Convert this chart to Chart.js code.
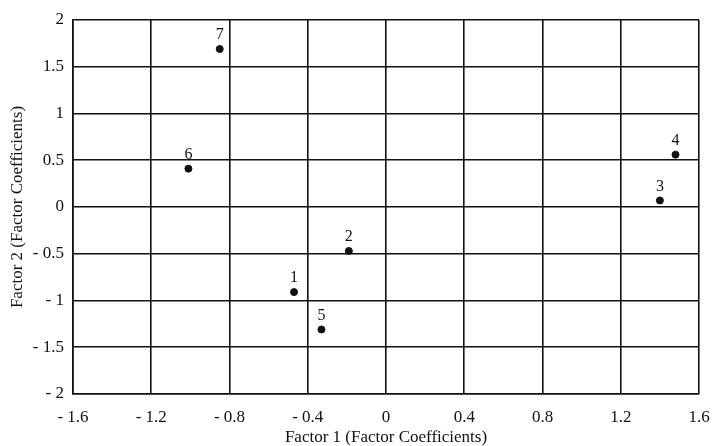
<!DOCTYPE html>
<html>
<head>
<meta charset="utf-8">
<script src="https://cdn.jsdelivr.net/npm/chart.js@4"></script>
<style>
  html, body { margin: 0; padding: 0; background: #fff; }
  #wrap { width: 714px; height: 446px; }
</style>
</head>
<body>
<div id="wrap"><canvas id="factorChart" width="714" height="446"></canvas></div>
<script>
// Point numbers and their factor coefficients
const pointLabels = ['1', '2', '3', '4', '5', '6', '7'];
const factor1 = [-0.47, -0.19, 1.40, 1.48, -0.33, -1.01, -0.85];
const factor2 = [-0.91, -0.47, 0.07, 0.56, -1.31, 0.41, 1.69];

const xTitle = 'Factor 1 (Factor Coefficients)';
const yTitle = 'Factor 2 (Factor Coefficients)';

const serif = "'Liberation Serif', 'Times New Roman', serif";
const ink = '#111';

// "- 0.4" style for negative ticks
function fmtTick(value) {
  const v = Math.round(value * 10) / 10;
  if (v < 0) return '- ' + Math.abs(v);
  return String(v);
}

// draw the number above each dot
const pointNumbers = {
  id: 'pointNumbers',
  afterDatasetsDraw(chart) {
    const ctx = chart.ctx;
    const meta = chart.getDatasetMeta(0);
    ctx.save();
    ctx.font = '16px ' + serif;
    ctx.fillStyle = ink;
    ctx.textAlign = 'center';
    ctx.textBaseline = 'bottom';
    meta.data.forEach((pt, i) => {
      ctx.fillText(pointLabels[i], pt.x, pt.y - 6);
    });
    ctx.restore();
  }
};

const data = factor1.map((x, i) => ({ x: x, y: factor2[i] }));

new Chart(document.getElementById('factorChart'), {
  type: 'scatter',
  data: {
    datasets: [{
      data: data,
      backgroundColor: ink,
      borderColor: ink,
      pointRadius: 3.5,
      pointHoverRadius: 3.5
    }]
  },
  options: {
    responsive: false,
    animation: false,
    layout: { padding: { top: 20, right: 15, left: 0, bottom: 0 } },
    plugins: {
      legend: { display: false },
      tooltip: { enabled: false }
    },
    scales: {
      x: {
        type: 'linear',
        min: -1.6,
        max: 1.6,
        afterFit: function(scale) {
          scale.height = 52;
          // let the last label hang past the plot edge like the original
          scale.paddingRight = 0;
        },
        ticks: {
          stepSize: 0.4,
          color: ink,
          padding: 13,
          font: { family: serif, size: 17 },
          callback: fmtTick
        },
        grid: { color: ink, lineWidth: 1.6, drawTicks: false },
        border: { color: ink, width: 1.6 },
        title: {
          display: true,
          text: xTitle,
          color: ink,
          padding: 0,
          font: { family: serif, size: 17, lineHeight: 1 }
        }
      },
      y: {
        type: 'linear',
        min: -2,
        max: 2,
        afterFit: function(scale) { scale.width = 73; },
        ticks: {
          stepSize: 0.5,
          color: ink,
          padding: 9,
          font: { family: serif, size: 17 },
          callback: fmtTick
        },
        grid: { color: ink, lineWidth: 1.6, drawTicks: false },
        border: { color: ink, width: 1.6 },
        title: {
          display: true,
          text: yTitle,
          color: ink,
          padding: { top: 9, bottom: 0 },
          font: { family: serif, size: 17, lineHeight: 1 }
        }
      }
    }
  },
  plugins: [pointNumbers]
});
</script>
</body>
</html>
